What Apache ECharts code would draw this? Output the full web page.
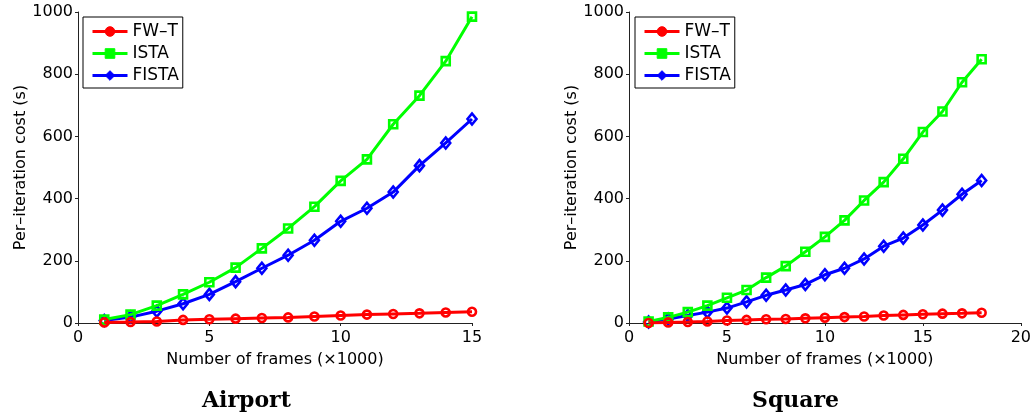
<!DOCTYPE html>
<html>
<head>
<meta charset="utf-8">
<script src="https://cdn.jsdelivr.net/npm/echarts@6/dist/echarts.min.js"></script>
<style>
html,body{margin:0;padding:0;background:#fff;}
#chart{width:1034px;height:419px;}
</style>
</head>
<body>
<div id="chart"></div>
<script>
// ---- data ----
const seriesNames = ['FW\u2013T', 'ISTA', 'FISTA'];
const panelTitles = ['Airport', 'Square'];
const xAxisName = 'Number of frames (\u00d71000)';
const yAxisName = 'Per\u2013iteration cost (s)';

const airportFrames = [1,2,3,4,5,6,7,8,9,10,11,12,13,14,15];
const airportFWT   = [2,3,5,10,12,14,16,18,21,24,27,29,31,34,36];
const airportISTA  = [11,27,56,92,131,178,240,304,374,457,526,639,731,842,985];
const airportFISTA = [8,19,38,62,92,133,176,218,266,327,369,421,506,579,656];

const squareFrames = [1,2,3,4,5,6,7,8,9,10,11,12,13,14,15,16,17,18];
const squareFWT   = [0,2,3,5,8,10,12,13,15,17,19,21,24,26,28,30,31,33];
const squareISTA  = [5,18,35,56,81,106,146,183,229,277,330,394,453,528,614,680,774,848];
const squareFISTA = [3,13,24,35,48,68,89,106,124,155,176,206,247,273,315,363,414,458];

const airportXMax = 15, squareXMax = 20, xInterval = 5;
const yMax = 1000, yInterval = 200;

// ---- styling ----
const colors = ['#ff0000', '#00ff00', '#0000ff'];
const symbols = ['circle', 'rect', 'diamond'];
const symbolSizes = [8, 8, [9, 11]];
const FONT = 'DejaVu Sans';

function zip(xs, ys) { return xs.map((x, i) => [x, ys[i]]); }

const grids = [
  { left: 78, top: 12, width: 394, height: 311 },
  { left: 629, top: 12, width: 394, height: 311 }
];

function makeX(idx, max) {
  return {
    gridIndex: idx, type: 'value', min: 0, max: max, interval: xInterval,
    name: xAxisName, nameLocation: 'middle', nameGap: 29,
    nameTextStyle: { fontFamily: FONT, fontSize: 16, color: '#000' },
    axisLine: { show: true, onZero: false, lineStyle: { color: '#222', width: 1 } },
    axisTick: { show: true, inside: false, length: 3, lineStyle: { color: '#222' } },
    axisLabel: { fontFamily: FONT, fontSize: 16, color: '#000', margin: 7, showMaxLabel: true,
                 formatter: v => String(v) },
    splitLine: { show: false }
  };
}
function makeY(idx) {
  return {
    gridIndex: idx, type: 'value', min: 0, max: yMax, interval: yInterval,
    name: yAxisName, nameLocation: 'middle', nameGap: 48,
    nameTextStyle: { fontFamily: FONT, fontSize: 16, color: '#000' },
    axisLine: { show: true, lineStyle: { color: '#222', width: 1 } },
    axisTick: { show: true, inside: false, length: 3, lineStyle: { color: '#222' } },
    axisLabel: { fontFamily: FONT, fontSize: 16, color: '#000', margin: 5,
                 formatter: v => String(v) },
    splitLine: { show: false }
  };
}

function makeSeries(k, name, xs, ys, idx) {
  return {
    type: 'line', name: name, xAxisIndex: idx, yAxisIndex: idx,
    data: zip(xs, ys),
    symbol: symbols[k], symbolSize: symbolSizes[k],
    showAllSymbol: true,
    lineStyle: { color: colors[k], width: 3 },
    itemStyle: { color: 'rgba(255,255,255,0)', borderColor: colors[k], borderWidth: 2.6 },
    emphasis: { disabled: true },
    animation: false,
    z: 3 - k + 2
  };
}

const airportData = [airportFWT, airportISTA, airportFISTA];
const squareData = [squareFWT, squareISTA, squareFISTA];

const series = [];
seriesNames.forEach((n, k) => series.push(makeSeries(k, n, airportFrames, airportData[k], 0)));
seriesNames.forEach((n, k) => series.push(makeSeries(k, n, squareFrames, squareData[k], 1)));

function makeLegend(left) {
  return {
    orient: 'vertical', left: left, top: 17,
    padding: [6, 4, 4, 8],
    itemGap: 5, itemWidth: 35, itemHeight: 12,
    borderColor: '#000', borderWidth: 1,
    backgroundColor: '#fff',
    textStyle: { fontFamily: FONT, fontSize: 17, color: '#000', padding: [0, 0, 0, 0] },
    data: seriesNames.map((n, k) => ({
      name: n,
      itemStyle: { color: colors[k], borderColor: colors[k], borderWidth: 1 },
      lineStyle: { color: colors[k], width: 3 }
    })),
    selectedMode: false
  };
}

const chart = echarts.init(document.getElementById('chart'), null, { renderer: 'canvas' });
chart.setOption({
  animation: false,
  backgroundColor: '#fff',
  grid: grids,
  xAxis: [makeX(0, airportXMax), makeX(1, squareXMax)],
  yAxis: [makeY(0), makeY(1)],
  legend: [makeLegend(83), makeLegend(635)],
  series: series,
  graphic: [
    { type: 'text', left: 202, top: 390, style: { text: panelTitles[0], font: 'bold 22px "DejaVu Serif"', fill: '#000' } },
    { type: 'text', left: 752, top: 390, style: { text: panelTitles[1], font: 'bold 22px "DejaVu Serif"', fill: '#000' } }
  ]
});
</script>
</body>
</html>
